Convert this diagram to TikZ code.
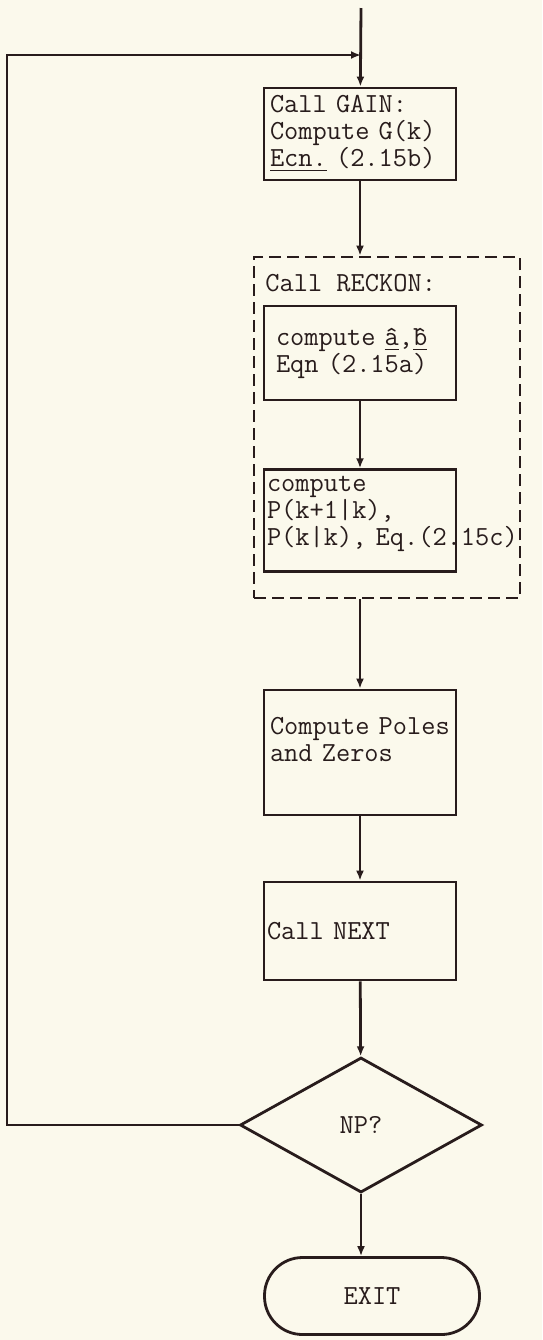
\documentclass[tikz,border=0pt]{standalone}
\usepackage{amsmath}
\usepackage{xcolor}
\usepackage{tikz}
\usetikzlibrary{arrows.meta,shapes.geometric}
\definecolor{paper}{RGB}{251,249,236}
\definecolor{ink}{RGB}{40,28,28}

\begin{document}
\begin{tikzpicture}[x=0.5pt,y=-0.5pt,color=ink,line width=1.4pt,
  arr/.style={-{Latex[length=5pt,width=4pt]}},
  tt/.style={font=\ttfamily\fontsize{13.8}{13.5}\selectfont},
  blk/.style={draw,rectangle,tt,align=left,text width=90pt,inner xsep=3pt,minimum height=#1},
  dashbox/.style={draw,dash pattern=on 6pt off 3pt,minimum width=133pt,minimum height=170.5pt},
  dec/.style={draw,diamond,tt,aspect=2,inner sep=0pt,minimum width=121pt,minimum height=67.5pt},
  term/.style={draw,rectangle,tt,rounded corners=19pt,minimum width=107.5pt,minimum height=38.5pt}]
\fill[paper] (0,0) rectangle (542,1340);
\useasboundingbox (0,0) rectangle (542,1340);
\coordinate (top) at (361,8);
\coordinate (join) at (361,55);
\coordinate (lc) at (7,55);
\node[blk=46pt] (gain) at (360,134) {Call~GAIN:\\Compute~G(k)\\\underline{Ecn.}~(2.15b)};
\node[dashbox] (reckon) at (387,427.5) {};
\node[tt,anchor=west,inner sep=0pt] (rlab) at (264,283) {Call~RECKON:};
\node[blk=47pt,inner xsep=6pt,text width=84pt] (ab) at (360,353) {compute~\underline{\^a},\underline{\^b}\\Eqn~(2.15a)};
\node[blk=49.5pt,inner xsep=1.5pt,text width=93pt] (pk) at (360,520.5) {compute\\P(k+1|k),\\P(k|k),~Eq.(2.15c)\\[-4pt]\mbox{}};
\node[blk=62.5pt] (poles) at (360,752.5) {Compute~Poles\\and~Zeros\\\mbox{}};
\node[blk=49pt,inner xsep=1.5pt,text width=93pt] (next) at (360,931) {Call~NEXT};
\node[dec] (np) at (361,1125) {NP?};
\node[term] (exit) at (372,1296) {EXIT};
\draw[arr] (top) -- (gain);
\draw[arr] (np.west) -| (lc) -- (join);
\draw[arr] (gain.south) -- (gain.south |- reckon.north);
\draw[arr] (ab) -- (pk);
\draw[arr] (reckon.south -| poles) -- (poles);
\draw[arr] (poles) -- (next);
\draw[arr] (next) -- (np);
\draw[arr] (np.south) -- (np.south |- exit.north);
\end{tikzpicture}
\end{document}
